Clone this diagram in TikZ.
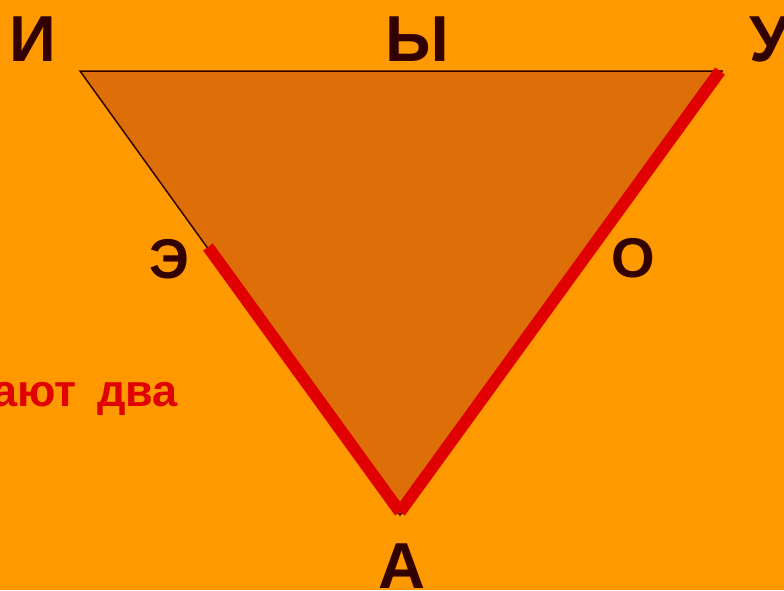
\documentclass[tikz,border=0pt]{standalone}
\usepackage{fontspec}
\setmainfont{Liberation Sans}
\definecolor{bg}{HTML}{FF9900}
\definecolor{tri}{HTML}{DD6E08}
\definecolor{ink}{HTML}{330000}
\definecolor{redline}{HTML}{E00000}
\begin{document}
\begin{tikzpicture}[x=1pt,y=-1pt,
  big/.style={anchor=base,text=ink,inner sep=0pt,font=\bfseries\fontsize{65}{65}\selectfont},
  mid/.style={anchor=base,text=ink,inner sep=0pt,font=\bfseries\fontsize{56}{56}\selectfont},
  redl/.style={draw=redline,line width=12pt,line cap=butt}]
\useasboundingbox (0,0) rectangle (784,590);
\clip (0,0) rectangle (784,590);
\fill[bg] (0,0) rectangle (784,590);
\coordinate (TL) at (80,71);
\coordinate (TR) at (722,71);
\coordinate (B) at (400,515);
\coordinate (E) at (208,247);
\coordinate (RB) at (400,512);
\coordinate (RT) at (720,71);
\filldraw[fill=tri,draw=ink,line width=1.5pt] (TL) -- (TR) -- (B) -- cycle;
\draw[redl] (E) -- (RB);
\draw[redl] (RB) -- (RT);
\node[big] (i) at (33,61) {И};
\node[big] (y) at (417,61) {Ы};
\node[big] (u) at (770,61) {У};
\node[mid] (e) at (169,278) {Э};
\node[mid] (o) at (633,277) {О};
\node[big] (a) at (402,588) {А};
\node[anchor=base east,text=redline,inner sep=0pt,font=\bfseries\fontsize{45}{45}\selectfont] (t) at (178,406) {ают\hspace{0.45em}два};
\end{tikzpicture}
\end{document}
